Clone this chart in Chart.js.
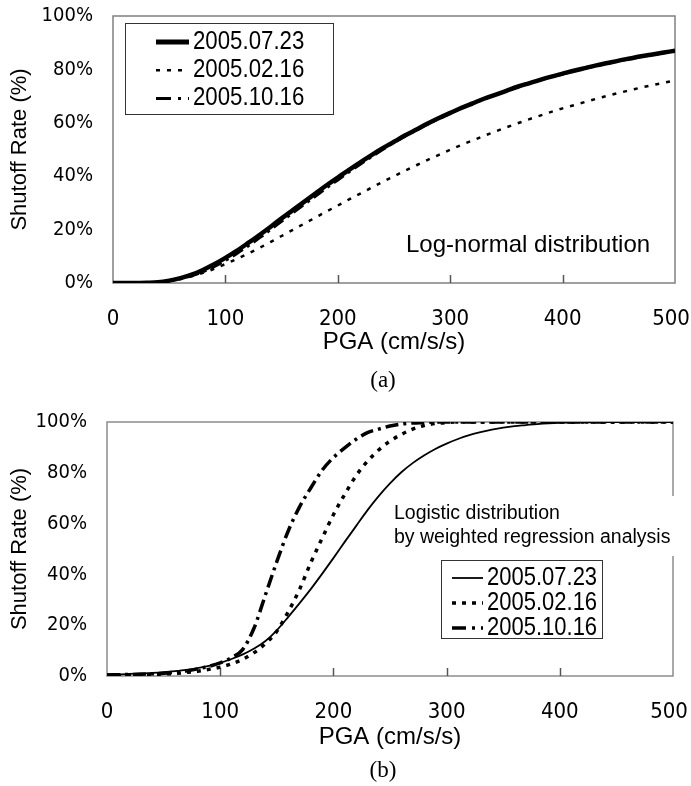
<!DOCTYPE html>
<html>
<head>
<meta charset="utf-8">
<script src="https://cdn.jsdelivr.net/npm/chart.js@4/dist/chart.umd.min.js"></script>
<style>
  html, body { margin: 0; padding: 0; background: #fff; }
  #wrap { position: relative; width: 691px; height: 786px; }
  canvas { position: absolute; left: 0; }
  #chartA { top: 0; }
  #chartB { top: 393px; }
</style>
</head>
<body>
<div id="wrap">
  <canvas id="chartA" width="691" height="393"></canvas>
  <canvas id="chartB" width="691" height="393"></canvas>
</div>
<script>
// Peak ground acceleration (cm/s/s) at which shutoff rates are given
const PGA = [0, 10, 20, 30, 40, 50, 60, 70, 80, 90,
             100, 110, 120, 130, 140, 150, 160, 170, 180, 190,
             200, 210, 220, 230, 240, 250, 260, 270, 280, 290,
             300, 310, 320, 330, 340, 350, 360, 370, 380, 390,
             400, 410, 420, 430, 440, 450, 460, 470, 480, 490, 500];

const EVENTS = ['2005.07.23', '2005.02.16', '2005.10.16'];

// (a) log-normal fragility curves, shutoff rate in %
const lnRate0723 = [0, 0, 0, 0.1, 0.3, 0.9, 1.8, 3.1, 4.9, 7.0,
                    9.4, 12.0, 14.9, 17.9, 21.0, 24.2, 27.3, 30.4, 33.5, 36.6,
                    39.5, 42.4, 45.2, 47.9, 50.5, 52.9, 55.3, 57.5, 59.7, 61.8,
                    63.7, 65.6, 67.3, 69.0, 70.5, 72.0, 73.5, 74.8, 76.1, 77.3,
                    78.4, 79.5, 80.5, 81.5, 82.4, 83.3, 84.1, 84.9, 85.6, 86.3, 87.0];
const lnRate0216 = [0, 0, 0, 0.1, 0.3, 0.8, 1.5, 2.5, 3.8, 5.3,
                    7.1, 9.0, 11.0, 13.1, 15.3, 17.6, 19.9, 22.2, 24.5, 26.8,
                    29.0, 31.3, 33.5, 35.7, 37.9, 40.0, 42.1, 44.1, 46.1, 48.0,
                    49.9, 51.7, 53.4, 55.1, 56.7, 58.3, 59.8, 61.3, 62.7, 64.1,
                    65.4, 66.6, 67.8, 69.0, 70.1, 71.2, 72.2, 73.2, 74.1, 75.0, 75.9];
const lnRate1016 = [0, 0, 0, 0.1, 0.3, 0.8, 1.6, 2.7, 4.2, 6.1,
                    8.4, 11.0, 13.8, 16.8, 19.9, 23.1, 26.3, 29.4, 32.5, 35.6,
                    38.6, 41.6, 44.5, 47.3, 50.0, 52.6, 55.0, 57.3, 59.5, 61.6,
                    63.6, 65.5, 67.2, 68.9, 70.5, 72.0, 73.4, 74.8, 76.0, 77.2,
                    78.3, 79.4, 80.4, 81.4, 82.3, 83.2, 84.0, 84.8, 85.5, 86.2, 86.9];

// (b) logistic curves from weighted regression, shutoff rate in %
const lgRate0723 = [0.5, 0.6, 0.8, 1.0, 1.2, 1.5, 1.9, 2.4, 3.1, 4.0,
                    5.2, 6.7, 8.5, 10.8, 13.8, 18.0, 23.2, 28.6, 34.2, 40.2,
                    46.4, 52.8, 59.0, 65.2, 70.8, 75.8, 80.2, 83.8, 86.8, 89.4,
                    91.5, 93.3, 94.8, 96.0, 97.0, 97.8, 98.4, 98.8, 99.2, 99.5,
                    99.7, 99.8, 99.9, 99.9, 100, 100, 100, 100, 100, 100, 100];
const lgRate0216 = [0.3, 0.3, 0.4, 0.5, 0.6, 0.8, 1.0, 1.4, 1.9, 2.6,
                    3.5, 4.8, 6.6, 9.2, 12.8, 17.6, 25.2, 34.0, 44.6, 54.2,
                    63.5, 71.5, 78.8, 84.5, 89.0, 92.5, 95.1, 97.2, 98.6, 99.4,
                    99.8, 100, 100, 100, 100, 100, 100, 100, 100, 100,
                    100, 100, 100, 100, 100, 100, 100, 100, 100, 100, 100];
const lgRate1016 = [0.4, 0.5, 0.6, 0.7, 0.9, 1.1, 1.5, 2.0, 2.8, 3.8,
                    5.2, 7.2, 10.5, 19.0, 32.0, 45.0, 57.0, 66.5, 74.0, 81.0,
                    86.0, 89.8, 93.2, 95.8, 97.2, 98.4, 99.2, 99.6, 99.8, 100,
                    100, 100, 100, 100, 100, 100, 100, 100, 100, 100,
                    100, 100, 100, 100, 100, 100, 100, 100, 100, 100, 100];

const X_TICKS = [0, 100, 200, 300, 400, 500];
const Y_TICKS = [0, 20, 40, 60, 80, 100];

const COND = "'DejaVu Sans Condensed', 'Liberation Sans Narrow', 'Liberation Sans', Arial, sans-serif";
const SANS = "'Liberation Sans', Arial, sans-serif";
const SERIF = "'Liberation Serif', 'Times New Roman', serif";

function series(values) {
  return PGA.map((x, i) => ({ x: x, y: values[i] }));
}

// keep the plot box where it is set by layout padding and the fixed axis sizes
function noOverhang(s) {
  s.paddingLeft = 0; s.paddingRight = 0; s.paddingTop = 0; s.paddingBottom = 0;
}

// Frame, inner tick marks, notes, legend and caption drawn around the plot
const paperDecor = {
  id: 'paperDecor',
  beforeDatasetsDraw(chart, args, o) {
    const { ctx, chartArea: a, scales } = chart;
    ctx.save();
    ctx.strokeStyle = o.frameColor;
    ctx.lineWidth = 1.5;
    ctx.strokeRect(a.left, a.top, a.right - a.left, a.bottom - a.top);
    ctx.strokeStyle = '#555';
    X_TICKS.slice(1, -1).forEach(v => {
      const px = Math.round(scales.x.getPixelForValue(v)) + 0.5;
      ctx.beginPath();
      ctx.moveTo(px, a.bottom);
      ctx.lineTo(px, a.bottom - 8);
      ctx.stroke();
    });
    ctx.restore();
  },
  afterDatasetsDraw(chart, args, o) {
    const { ctx } = chart;
    ctx.save();
    // annotation text
    const n = o.note;
    if (n.box) {
      ctx.fillStyle = '#fff';
      ctx.fillRect(n.box[0], n.box[1], n.box[2], n.box[3]);
    }
    ctx.fillStyle = '#000';
    ctx.font = n.size + 'px ' + SANS;
    ctx.textAlign = 'left';
    ctx.textBaseline = 'middle';
    n.lines.forEach((t, i) => ctx.fillText(t, n.x, n.y + i * n.step));

    // legend
    const L = o.legend;
    ctx.fillStyle = '#fff';
    ctx.fillRect(L.box[0], L.box[1], L.box[2], L.box[3]);
    ctx.strokeStyle = '#333';
    ctx.lineWidth = 1;
    ctx.strokeRect(L.box[0] + 0.5, L.box[1] + 0.5, L.box[2], L.box[3]);
    ctx.font = L.size + 'px ' + SANS;
    chart.data.datasets.forEach((ds, i) => {
      const y = L.y0 + i * L.step;
      ctx.save();
      ctx.strokeStyle = ds.borderColor;
      ctx.lineWidth = ds.legendWidth || ds.borderWidth;
      ctx.setLineDash(ds.legendDash || ds.borderDash || []);
      ctx.lineCap = 'butt';
      ctx.beginPath();
      ctx.moveTo(L.x0, y);
      ctx.lineTo(L.x1, y);
      ctx.stroke();
      ctx.restore();
      ctx.save();
      ctx.fillStyle = '#000';
      ctx.textAlign = 'left';
      ctx.textBaseline = 'middle';
      ctx.translate(L.tx, y);
      ctx.scale(L.squeeze, 1);
      ctx.fillText(ds.label, 0, 0);
      ctx.restore();
    });

    // panel caption
    ctx.fillStyle = '#000';
    ctx.font = o.caption.size + 'px ' + SERIF;
    ctx.textAlign = 'center';
    ctx.textBaseline = 'middle';
    ctx.fillText(o.caption.text, o.caption.x, o.caption.y);
    ctx.restore();
  }
};

function buildChart(canvasId, spec) {
  return new Chart(document.getElementById(canvasId), {
    type: 'line',
    data: { datasets: spec.datasets },
    plugins: [paperDecor],
    options: {
      responsive: false,
      animation: false,
      devicePixelRatio: 1,
      layout: { padding: { left: 0, right: spec.padRight, top: spec.padTop, bottom: 0 } },
      elements: { point: { radius: 0 }, line: { fill: false, cubicInterpolationMode: 'monotone' } },
      scales: {
        x: {
          type: 'linear', min: 0, max: 500,
          afterBuildTicks: s => { s.ticks = X_TICKS.map(v => ({ value: v })); },
          afterFit: s => { s.height = 110; noOverhang(s); },
          grid: { display: false, drawTicks: false },
          border: { display: false },
          ticks: { color: '#000', padding: 23, maxRotation: 0, autoSkip: false,
                   font: { family: COND, size: 22 },
                   callback: v => (v === 500 ? '500\u2009\u2009' : String(v)) },
          title: { display: true, text: 'PGA (cm/s/s)', color: '#000',
                   font: { family: SANS, size: 24 },
                   padding: { top: 0, bottom: spec.xTitlePad } }
        },
        y: {
          type: 'linear', min: 0, max: 100,
          afterBuildTicks: s => { s.ticks = Y_TICKS.map(v => ({ value: v })); },
          afterFit: s => { s.width = spec.yWidth; noOverhang(s); },
          grid: { display: false, drawTicks: false },
          border: { display: false },
          ticks: { color: '#000', padding: 20, callback: v => v + '%',
                   font: { family: COND, size: 20 } },
          title: { display: true, text: 'Shutoff Rate (%)', color: '#000',
                   font: { family: SANS, size: 22 },
                   padding: { top: 7, bottom: 0 } }
        }
      },
      plugins: {
        legend: { display: false },
        tooltip: { enabled: false },
        paperDecor: spec.decor
      }
    }
  });
}

buildChart('chartA', {
  padRight: 16, padTop: 16, yWidth: 113, xTitlePad: 36,
  datasets: [
    { label: EVENTS[0], data: series(lnRate0723), borderColor: '#000', borderWidth: 4.5, legendWidth: 5 },
    { label: EVENTS[1], data: series(lnRate0216), borderColor: '#000', borderWidth: 2.5, borderDash: [4, 7] },
    { label: EVENTS[2], data: series(lnRate1016), borderColor: '#000', borderWidth: 3, borderDash: [12, 5, 3, 5], legendDash: [15, 7, 3, 7] }
  ],
  decor: {
    frameColor: '#808080',
    note: { lines: ['Log-normal distribution'], x: 406, y: 245, step: 0, size: 24 },
    legend: { box: [125, 23, 208, 91], x0: 156, x1: 189, tx: 193, y0: 42, step: 28.3, size: 25, squeeze: 0.89 },
    caption: { text: '(a)', x: 383, y: 381, size: 23 }
  }
});

buildChart('chartB', {
  padRight: 18, padTop: 29, yWidth: 107, xTitlePad: 34,
  datasets: [
    { label: EVENTS[0], data: series(lgRate0723), borderColor: '#000', borderWidth: 1.8 },
    { label: EVENTS[1], data: series(lgRate0216), borderColor: '#000', borderWidth: 3.5, borderDash: [4, 6] },
    { label: EVENTS[2], data: series(lgRate1016), borderColor: '#000', borderWidth: 3.5, borderDash: [13, 5, 3, 5], legendDash: [14, 6, 3, 6] }
  ],
  decor: {
    frameColor: '#8c8c8c',
    note: { lines: ['Logistic distribution', 'by weighted regression analysis'],
            x: 394, y: 121, step: 24, size: 19.5, box: [388, 103, 295, 60] },
    legend: { box: [441, 167, 161, 78], x0: 452, x1: 483, tx: 487, y0: 185, step: 25, size: 25, squeeze: 0.88 },
    caption: { text: '(b)', x: 383, y: 378, size: 23 }
  }
});
</script>
</body>
</html>
